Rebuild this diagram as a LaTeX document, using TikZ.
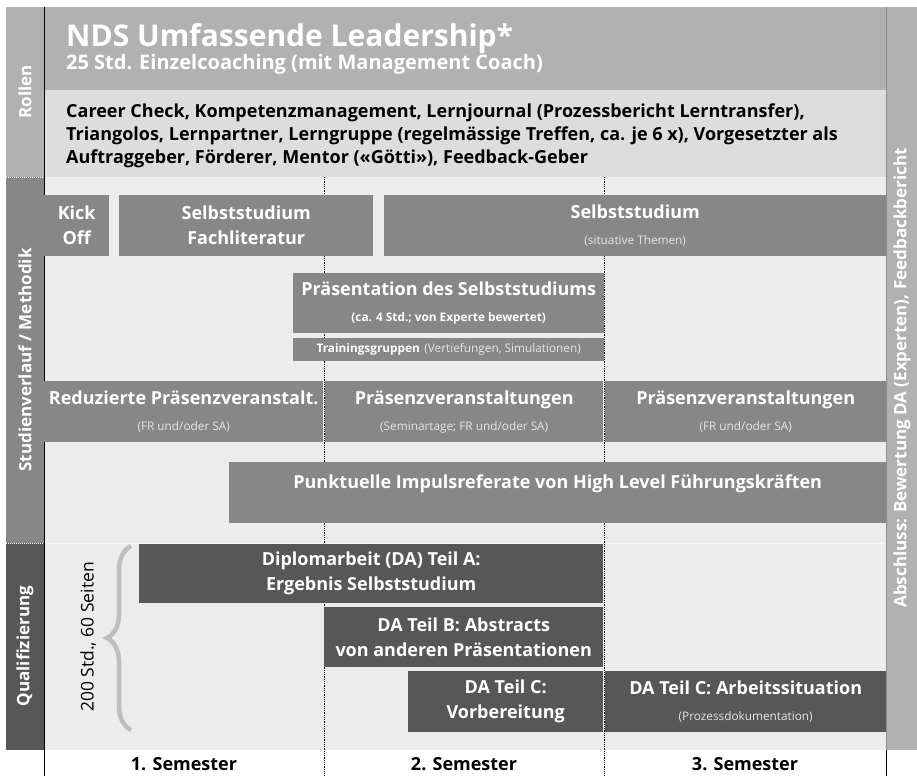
\documentclass[tikz,border=0pt]{standalone}
\usepackage{fontspec}
\setmainfont{Open Sans}
\usetikzlibrary{decorations.pathreplacing}
\definecolor{titlegray}{HTML}{B1B1B2}
\definecolor{lightband}{HTML}{DCDDDC}
\definecolor{areagray}{HTML}{ECECEC}
\definecolor{midgray}{HTML}{878787}
\definecolor{darkgray}{HTML}{575757}
\definecolor{subtext}{HTML}{E6E6E6}
\definecolor{bracegray}{HTML}{BDBEBD}
\tikzset{
  box/.style={anchor=north west, inner sep=0pt, align=center, text=white,
    font=\bfseries\fontsize{18}{25}\selectfont},
  midbox/.style={box, fill=midgray},
  darkbox/.style={box, fill=darkgray},
  sidelabel/.style={rotate=90, text=white, font=\bfseries\fontsize{17}{20}\selectfont},
  rollenzeile/.style={anchor=base west, inner sep=0pt, font=\bfseries\fontsize{18}{21}\selectfont},
  semester/.style={font=\bfseries\fontsize{18}{20}\selectfont},
  grid line/.style={densely dotted, line width=0.8pt},
  band line/.style={white, densely dotted, line width=1pt}
}
% small second line inside a box
\newcommand{\subline}[2][subtext]{{\mdseries\fontsize{11.8}{14}\selectfont\color{#1}#2}}
% box from the top left corner, width, height
\newcommand{\block}[6][midbox]{
  \node[#1, minimum width=#4pt, minimum height=#5pt] (#2) at (#3) {#6};
}

\begin{document}
\begin{tikzpicture}[x=1pt, y=-1pt]
\useasboundingbox (0,0) rectangle (917,776);
% bands
\fill[titlegray] (6,7) rectangle (886,90);
\fill[lightband] (44,90) rectangle (886,177);
\fill[titlegray] (6,90) rectangle (44,177);
\fill[areagray] (44,177) rectangle (886,750);
\fill[midgray] (6,177) rectangle (44,543);
\fill[darkgray] (6,543) rectangle (44,750);
\fill[titlegray] (886,7) rectangle (917,750);
\draw[band line] (6,177) -- (886,177);
\draw[band line] (6,543) -- (886,543);
% semester borders
\draw[grid line] (324,177) -- (324,776);
\draw[grid line] (604,177) -- (604,776);
\draw[line width=1pt] (44,7) -- (44,776);
\draw[black!45, line width=0.6pt] (886,7) -- (886,750);
\draw[line width=1pt] (886,750) -- (886,776);
% side labels
\node[sidelabel] (rollen) at (25,92) {Rollen};
\node[sidelabel] (verlauf) at (25,360) {Studienverlauf / Methodik};
\node[sidelabel] (quali) at (25,646) {Qualifizierung};
\node[sidelabel] (abschluss) at (902,378) {Abschluss: Bewertung DA (Experten), Feedbackbericht};
% title
\node[anchor=base west, inner sep=0pt, text=white, font=\bfseries\fontsize{30}{32}\selectfont]
  (title) at (66,47) {NDS Umfassende Leadership*};
\node[anchor=base west, inner sep=0pt, text=white, font=\bfseries\fontsize{20}{22}\selectfont]
  (coaching) at (66,70) {25 Std. Einzelcoaching (mit Management Coach)};
\node[rollenzeile] (zeile1) at (66,117) {Career Check, Kompetenzmanagement, Lernjournal (Prozessbericht Lerntransfer),};
\node[rollenzeile] (zeile2) at (66,140) {Triangolos, Lernpartner, Lerngruppe (regelmässige Treffen, ca. je 6 x), Vorgesetzter als};
\node[rollenzeile] (zeile3) at (66,163) {Auftraggeber, Förderer, Mentor («Götti»), Feedback-Geber};
% Studienverlauf
\block{kick}{44,195}{65}{61}{Kick\\Off}
\block{fachlit}{119,195}{254}{61}{Selbststudium\\Fachliteratur}
\block{selbst}{384,195}{502}{61}{Selbststudium\\[1pt]\subline{(situative Themen)}}
\block{praes}{293,273}{311}{60}{Präsentation des Selbststudiums\\[1pt]
  \subline[white]{\bfseries(ca. 4 Std.; von Experte bewertet)}}
\block{training}{293,338}{311}{23}{\subline[white]{\bfseries Trainingsgruppen}
  \subline{(Vertiefungen, Simulationen)}}
\block{reduziert}{44,381}{279}{61}{Reduzierte Präsenzveranstalt.\\[1pt]\subline{(FR und/oder SA)}}
\block{praesenzB}{325,381}{278}{61}{Präsenzveranstaltungen\\[1pt]\subline{(Seminartage; FR und/oder SA)}}
\block{praesenzC}{605,381}{281}{61}{Präsenzveranstaltungen\\[1pt]\subline{(FR und/oder SA)}}
\block{impuls}{229,462}{657}{61}{Punktuelle Impulsreferate von High Level Führungskräften\\[-2pt]\subline{~}}
% Qualifizierung
\block[darkbox]{teilA}{139,544}{464}{59}{Diplomarbeit (DA) Teil A:\\Ergebnis Selbststudium}
\block[darkbox]{teilB}{324,607}{279}{60}{DA Teil B: Abstracts\\von anderen Präsentationen}
\block[darkbox]{teilC}{408,671}{195}{61}{DA Teil C:\\Vorbereitung}
\block[darkbox]{arbeit}{605,671}{281}{61}{DA Teil C: Arbeitssituation\\[1pt]\subline{(Prozessdokumentation)}}
\draw[decorate, decoration={brace, amplitude=24pt}, bracegray, line width=4.5pt]
  (131,730) -- (131,546);
\node[rotate=90, font=\fontsize{17.5}{20}\selectfont] (umfang) at (88,637) {200 Std., 60 Seiten};
% semesters
\node[semester] (sem1) at (184,764) {1. Semester};
\node[semester] (sem2) at (464,764) {2. Semester};
\node[semester] (sem3) at (745,764) {3. Semester};
\end{tikzpicture}
\end{document}
